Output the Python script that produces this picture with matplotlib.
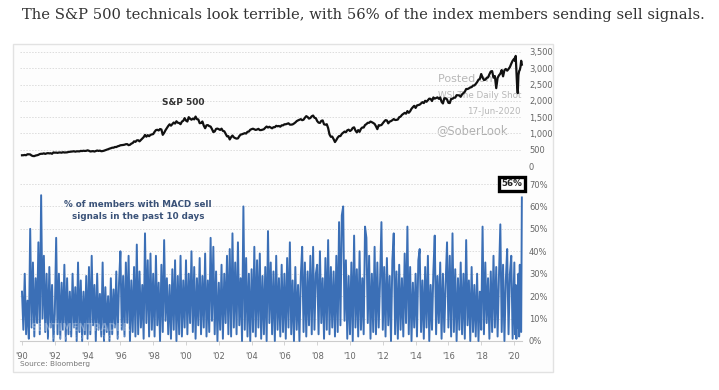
import numpy as np
import matplotlib
matplotlib.use("Agg")
import matplotlib.pyplot as plt
from matplotlib.patches import Rectangle

# ---------------- data ----------------
title = "The S&P 500 technicals look terrible, with 56% of the index members sending sell signals."

# S&P 500 monthly levels, Jan-1990 .. Dec-2019
sp500_monthly = [
    329, 331, 339, 330, 361, 358, 356, 322, 306, 304, 322, 330,
    343, 367, 375, 375, 389, 371, 387, 395, 387, 392, 375, 417,
    408, 412, 403, 414, 415, 408, 424, 414, 418, 419, 431, 436,
    439, 443, 452, 440, 450, 451, 448, 464, 459, 468, 462, 466,
    481, 467, 446, 451, 457, 444, 458, 475, 463, 472, 454, 459,
    470, 487, 501, 515, 533, 545, 562, 562, 584, 582, 605, 616,
    636, 640, 646, 654, 669, 671, 640, 652, 687, 705, 757, 741,
    786, 791, 757, 801, 848, 885, 954, 899, 947, 915, 955, 970,
    980, 1049, 1102, 1112, 1091, 1134, 1121, 957, 1017, 1099, 1164, 1229,
    1280, 1238, 1286, 1335, 1302, 1373, 1329, 1320, 1283, 1363, 1389, 1469,
    1394, 1366, 1499, 1452, 1421, 1455, 1431, 1518, 1437, 1429, 1315, 1320,
    1366, 1240, 1160, 1249, 1256, 1224, 1211, 1134, 1041, 1060, 1139, 1148,
    1130, 1107, 1147, 1076, 1067, 990, 912, 916, 815, 886, 936, 880,
    856, 841, 848, 917, 964, 975, 990, 1008, 996, 1051, 1058, 1112,
    1131, 1145, 1126, 1107, 1121, 1141, 1102, 1104, 1115, 1130, 1174, 1212,
    1181, 1204, 1181, 1157, 1192, 1191, 1234, 1220, 1229, 1207, 1249, 1248,
    1280, 1281, 1295, 1311, 1270, 1270, 1277, 1304, 1336, 1378, 1401, 1418,
    1438, 1407, 1421, 1482, 1531, 1503, 1455, 1474, 1527, 1549, 1481, 1468,
    1379, 1331, 1323, 1386, 1400, 1280, 1267, 1283, 1165, 969, 896, 903,
    826, 735, 798, 873, 919, 919, 987, 1021, 1057, 1036, 1096, 1115,
    1074, 1104, 1169, 1187, 1089, 1031, 1102, 1049, 1141, 1183, 1181, 1258,
    1286, 1327, 1326, 1364, 1345, 1321, 1292, 1219, 1131, 1253, 1247, 1258,
    1312, 1366, 1408, 1398, 1310, 1362, 1379, 1407, 1441, 1412, 1416, 1426,
    1498, 1515, 1569, 1598, 1631, 1606, 1686, 1633, 1682, 1757, 1806, 1848,
    1783, 1859, 1872, 1884, 1924, 1960, 1931, 2003, 1972, 2018, 2068, 2059,
    1995, 2105, 2068, 2086, 2107, 2063, 2104, 1972, 1920, 2079, 2080, 2044,
    1940, 1932, 2060, 2065, 2097, 2099, 2174, 2171, 2168, 2126, 2199, 2239,
    2279, 2364, 2363, 2384, 2412, 2423, 2470, 2472, 2519, 2575, 2648, 2674,
    2824, 2714, 2641, 2648, 2705, 2718, 2816, 2902, 2914, 2712, 2760, 2390,
    2704, 2784, 2834, 2946, 2752, 2942, 2980, 2926, 2977, 3038, 3141, 3231,
]
# S&P 500 half-monthly levels, Jan-2020 .. Jun-2020
sp500_2020 = [3300, 3226, 3380, 2954, 2480, 2237, 2790, 2912, 2950, 3044, 3230, 3113]

# % of members with MACD sell signals in past 10 days, monthly Jan-1990 .. Dec-2019
macd_monthly = [
    22, 5, 30, 3, 18, 1, 50, 6, 35, 2, 28, 8,
    44, 3, 65, 10, 38, 4, 30, 1, 33, 6, 25, 0,
    12, 46, 3, 30, 1, 26, 5, 34, 0, 28, 3, 22,
    2, 30, 6, 24, 0, 35, 4, 27, 0, 22, 3, 29,
    1, 33, 3, 38, 7, 25, 0, 30, 5, 21, 2, 35,
    0, 24, 4, 20, 0, 28, 3, 23, 6, 31, 1, 26,
    40, 5, 29, 2, 35, 8, 38, 0, 27, 4, 33, 2,
    43, 3, 31, 6, 25, 1, 48, 8, 36, 2, 39, 5,
    30, 2, 38, 7, 26, 0, 34, 4, 45, 9, 28, 3,
    25, 1, 32, 5, 36, 0, 29, 3, 38, 2, 27, 6,
    36, 3, 30, 8, 40, 4, 33, 1, 28, 7, 37, 3,
    29, 6, 39, 2, 27, 4, 46, 9, 42, 3, 31, 0,
    26, 5, 34, 1, 30, 8, 38, 3, 41, 2, 48, 6,
    35, 3, 44, 7, 28, 0, 60, 5, 37, 2, 30, 0,
    32, 4, 42, 2, 36, 6, 39, 1, 29, 3, 33, 0,
    49, 8, 35, 3, 31, 0, 38, 5, 28, 2, 34, 4,
    30, 1, 37, 6, 44, 3, 27, 0, 33, 5, 25, 0,
    29, 42, 4, 35, 2, 31, 7, 38, 3, 42, 5, 30,
    34, 3, 40, 8, 28, 1, 37, 5, 45, 3, 33, 6,
    31, 2, 38, 4, 53, 7, 56, 60, 9, 36, 1, 29,
    3, 35, 0, 47, 6, 32, 2, 40, 5, 28, 3, 51,
    46, 8, 38, 1, 30, 4, 42, 3, 35, 6, 27, 53,
    5, 33, 2, 37, 7, 29, 0, 36, 48, 3, 31, 1,
    34, 5, 28, 2, 39, 8, 51, 3, 33, 0, 26, 6,
    30, 2, 36, 41, 4, 27, 1, 33, 6, 38, 0, 25,
    5, 31, 47, 3, 29, 8, 35, 1, 30, 4, 26, 44,
    6, 38, 2, 48, 4, 32, 0, 28, 5, 35, 3, 30,
    1, 45, 7, 27, 0, 33, 4, 25, 2, 30, 0, 22,
    5, 51, 3, 35, 8, 28, 1, 31, 4, 38, 6, 33,
    2, 29, 52, 4, 34, 0, 27, 41, 3, 30, 38, 1,
]
# half-monthly, Jan-2020 .. Jun-2020
macd_2020 = [35, 3, 25, 1, 18, 6, 30, 2, 34, 5, 4, 64]

sp_ticks = [0, 500, 1000, 1500, 2000, 2500, 3000, 3500]
sp_ticklabels = ["0", "500", "1,000", "1,500", "2,000", "2,500", "3,000", "3,500"]
pct_ticks = [0, 10, 20, 30, 40, 50, 60, 70]
pct_ticklabels = ["0%", "10%", "20%", "30%", "40%", "50%", "60%", "70%"]
year_ticks = list(range(1990, 2021, 2))
year_ticklabels = ["'%02d" % (y % 100) for y in year_ticks]
last_label = "56%"

# ---------------- dates ----------------
t_monthly = 1990 + np.arange(len(sp500_monthly)) / 12.0
t_2020 = 2020 + np.arange(len(sp500_2020)) / 24.0 + 1 / 48.0
sp_t = np.concatenate([t_monthly, t_2020])
sp_v = np.array(sp500_monthly + sp500_2020, dtype=float)
m_t = np.concatenate([1990 + np.arange(len(macd_monthly)) / 12.0, t_2020])
m_v = np.array(macd_monthly + macd_2020, dtype=float)

# ---------------- figure ----------------
W, H = 719, 390
fig = plt.figure(figsize=(W / 100, H / 100), dpi=100)
fig.patch.set_facecolor("white")

def fx(px):
    return px / W

def fy(py):
    return 1 - py / H

# title
fig.text(fx(22), fy(15), title, family="DejaVu Serif", fontsize=10.6,
         color="#333333", ha="left", va="center")

# chart frame (behind axes)
frame = Rectangle((fx(13), fy(372)), fx(553) - fx(13), fy(44) - fy(372),
                  transform=fig.transFigure, facecolor="#fdfdfd",
                  edgecolor="#e2e2e2", lw=1.0, zorder=-10)
fig.patches.append(frame)

xl, xr = 20, 522
x0 = 1990 - (22 - xl) / 16.4
x1 = 2020 + (xr - 514) / 16.4

grid_kw = dict(color="#dcdcdc", lw=0.7, ls=(0, (1.5, 1.5)))
tick_color = "#666666"

# top panel: S&P 500
ax1 = fig.add_axes([fx(xl), fy(166), fx(xr) - fx(xl), fy(52) - fy(166)])
ax1.set_facecolor("none")
ax1.set_zorder(2)
ax1.plot(sp_t, sp_v, color="#111111", lw=1.6, clip_on=False, zorder=3)
ax1.set_xlim(x0, x1)
ax1.set_ylim(0, 3500)
ax1.set_yticks(sp_ticks)
ax1.set_yticklabels(sp_ticklabels)
ax1.yaxis.tick_right()
ax1.tick_params(axis="y", length=0, pad=5, labelsize=6, labelcolor=tick_color)
ax1.set_xticks([])
for s in ax1.spines.values():
    s.set_visible(False)
for v in sp_ticks:
    ax1.axhline(v, zorder=0, **grid_kw)
ax1.text(0.325, 0.56, "S&P 500", transform=ax1.transAxes, fontsize=6.5,
         fontweight="bold", color="#333333", ha="center", va="center")

# watermark
fig.text(fx(438), fy(79), "Posted on", fontsize=8, color="#b8b8b8", ha="left", va="center", zorder=1)
fig.text(fx(521), fy(95), "WSJ The Daily Shot", fontsize=6.3, color="#b8b8b8", ha="right", va="center", zorder=1)
fig.text(fx(521), fy(111), "17-Jun-2020", fontsize=6.3, color="#b8b8b8", ha="right", va="center", zorder=1)
fig.text(fx(436), fy(131), "@SoberLook", fontsize=8.3, color="#b0b0b0", ha="left", va="center", zorder=1)

# bottom panel: MACD %
ax2 = fig.add_axes([fx(xl), fy(341), fx(xr) - fx(xl), fy(184) - fy(341)])
ax2.set_facecolor("none")
ax2.set_zorder(2)
ax2.plot(m_t, m_v, color="#3b6fb6", lw=1.4, zorder=3, clip_on=False)
ax2.set_xlim(x0, x1)
ax2.set_ylim(0, 70)
ax2.set_yticks(pct_ticks)
ax2.set_yticklabels(pct_ticklabels)
ax2.yaxis.tick_right()
ax2.tick_params(axis="y", length=0, pad=5, labelsize=6, labelcolor=tick_color)
ax2.set_xticks(year_ticks)
ax2.set_xticklabels(year_ticklabels)
ax2.tick_params(axis="x", length=3, width=0.6, color="#cccccc", pad=5,
                labelsize=6, labelcolor=tick_color)
for k, s in ax2.spines.items():
    s.set_visible(k == "bottom")
ax2.spines["bottom"].set_color("#cccccc")
ax2.spines["bottom"].set_linewidth(0.8)
for v in pct_ticks[1:]:
    ax2.axhline(v, zorder=0, **grid_kw)

ax2.text(0.235, 0.83, "% of members with MACD sell\nsignals in the past 10 days",
         transform=ax2.transAxes, fontsize=6.3, fontweight="bold",
         color="#3a5278", ha="center", va="center", linespacing=1.4)

# last value label box
ax2.annotate(last_label, xy=(m_t[-1], 70), xytext=(-7, 0), textcoords="offset points",
             fontsize=6.3, fontweight="bold", color="#222222", ha="center", va="center",
             bbox=dict(boxstyle="square,pad=0.3", facecolor="white",
                       edgecolor="black", lw=2.4), annotation_clip=False, zorder=5)

# faint logo watermark
fig.text(fx(30), fy(328), "SENTIMENTRADER", fontsize=7, fontweight="bold",
         color="white", alpha=0.3, ha="left", va="center", zorder=4)
fig.text(fx(48), fy(337), "Analysis over emotion", fontsize=5, color="white",
         alpha=0.3, ha="left", va="center", zorder=4)

fig.text(fx(20), fy(364), "Source: Bloomberg", fontsize=5.3, color="#777777",
         ha="left", va="center")

fig.savefig("out.png", dpi=100, facecolor="white")
